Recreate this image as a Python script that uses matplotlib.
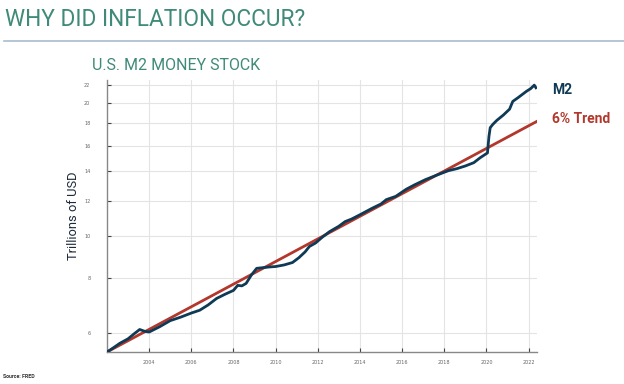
import matplotlib
matplotlib.use("Agg")
import matplotlib.pyplot as plt
from matplotlib import font_manager
from matplotlib.ticker import FixedLocator, NullLocator

names = {f.name for f in font_manager.fontManager.ttflist}
narrow = "Liberation Sans Narrow" if "Liberation Sans Narrow" in names else "Roboto"

# ---- data ----
m2_years = [2002.0, 2002.3, 2002.6, 2003.0, 2003.3, 2003.55, 2003.8, 2004.0, 2004.5, 2005.0,
            2005.5, 2006.0, 2006.4, 2006.8, 2007.2, 2007.6, 2008.0, 2008.2, 2008.4, 2008.6,
            2008.85, 2009.1, 2009.4, 2009.7, 2010.0, 2010.4, 2010.8, 2011.1, 2011.4, 2011.6,
            2011.9, 2012.2, 2012.55, 2013.0, 2013.3, 2013.6, 2014.0, 2014.3, 2014.6, 2015.0,
            2015.25, 2015.7, 2016.2, 2016.6, 2017.1, 2017.6, 2018.2, 2018.6, 2019.0, 2019.4,
            2019.7, 2020.05, 2020.12, 2020.18, 2020.3, 2020.5, 2020.8, 2021.1, 2021.25, 2021.5,
            2021.9, 2022.1, 2022.27, 2022.35]
m2_values = [5.43, 5.55, 5.68, 5.82, 5.98, 6.11, 6.05, 6.03, 6.20, 6.40,
             6.52, 6.66, 6.76, 6.95, 7.19, 7.35, 7.50, 7.70, 7.68, 7.78,
             8.13, 8.42, 8.45, 8.48, 8.50, 8.57, 8.68, 8.90, 9.18, 9.44,
             9.62, 9.90, 10.2, 10.5, 10.76, 10.9, 11.15, 11.35, 11.55, 11.8,
             12.07, 12.28, 12.75, 13.05, 13.4, 13.7, 14.05, 14.2, 14.4, 14.65,
             15.03, 15.42, 16.8, 17.6, 17.9, 18.3, 18.8, 19.4, 20.2, 20.6,
             21.3, 21.6, 22.0, 21.7]
trend_years = [2002.0, 2022.4]
trend_values = [5.43, 18.2]
y_ticks = [6, 8, 10, 12, 14, 16, 18, 20, 22]
x_ticks = [2004, 2006, 2008, 2010, 2012, 2014, 2016, 2018, 2020, 2022]

teal = "#3f8a78"
navy = "#0f3a55"
red = "#b3372c"
fam = [narrow, "DejaVu Sans"]

fig = plt.figure(figsize=(6.24, 3.84), dpi=100)
fig.patch.set_facecolor("white")

fig.text(5/624, 1 - 19/384, "WHY DID INFLATION OCCUR?", family=fam,
         fontsize=16.3, color=teal, va="center", ha="left")
fig.add_artist(plt.Line2D([4/624, 1], [1 - 41/384, 1 - 41/384], color="#a9bccb", lw=1.2))
fig.text(92/624, 1 - 66/384, "U.S. M2 MONEY STOCK", family=fam,
         fontsize=11.5, color=teal, va="center", ha="left")
fig.text(3/624, 1 - 377/384, "Source: FRED", family=fam,
         fontsize=3.8, color="#333333", va="center", ha="left", fontweight="bold")

ax = fig.add_axes([107/624, 1 - 352/384, 430/624, 272/384])
ax.set_yscale("log")
ax.plot(trend_years, trend_values, color=red, lw=2.0, zorder=3)
ax.plot(m2_years, m2_values, color=navy, lw=2.0, zorder=4)

ax.set_xlim(2002.0, 2022.4)
ax.set_ylim(5.43, 22.6)
ax.yaxis.set_major_locator(FixedLocator(y_ticks))
ax.yaxis.set_minor_locator(NullLocator())
ax.set_yticklabels([str(v) for v in y_ticks])
ax.set_xticks(x_ticks)
ax.set_xticklabels([str(v) for v in x_ticks])
ax.tick_params(axis="both", labelsize=3.5, labelcolor="#666666", direction="in",
               length=3, color="#444444", width=0.8)
ax.tick_params(axis="y", pad=12)
ax.tick_params(axis="x", pad=6)
ax.grid(True, color="#e4e4e4", lw=0.8)
ax.set_axisbelow(True)
for s in ["top", "right"]:
    ax.spines[s].set_visible(False)
for s in ["left", "bottom"]:
    ax.spines[s].set_color("#888888")
    ax.spines[s].set_linewidth(1.0)

ax.set_ylabel("Trillions of USD", family=fam, fontsize=9.3,
              color="#1d2a3a", labelpad=3)

ax.text(1.035, ax.transAxes.inverted().transform(ax.transData.transform((0, 21.4)))[1],
        "M2", transform=ax.transAxes, color=navy, fontsize=10, fontweight="bold",
        family=fam, va="center", ha="left")
ax.text(1.035, ax.transAxes.inverted().transform(ax.transData.transform((0, 18.4)))[1],
        "6% Trend", transform=ax.transAxes, color=red, fontsize=10, fontweight="bold",
        family=fam, va="center", ha="left")

fig.savefig("out.png", dpi=100)
